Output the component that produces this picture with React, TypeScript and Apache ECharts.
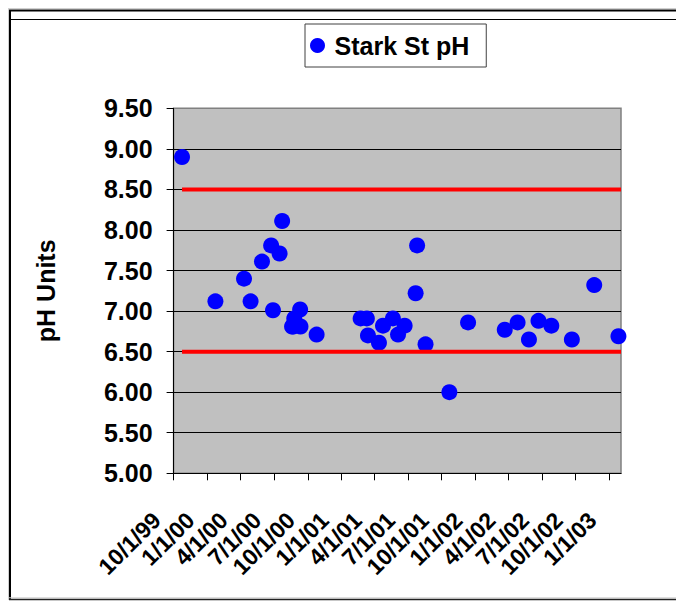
import React, { useEffect, useRef } from 'react';
import * as echarts from 'echarts';

// ---- Data ----
const sampleDates = [
  '1999-10-24',
  '2000-01-23', '2000-04-10', '2000-04-28', '2000-05-29', '2000-06-23', '2000-06-28',
  '2000-07-16', '2000-07-23', '2000-08-19', '2000-08-22', '2000-08-25', '2000-09-10',
  '2000-09-11', '2000-10-25',
  '2001-02-22', '2001-03-11', '2001-03-14', '2001-04-13', '2001-04-24', '2001-05-21',
  '2001-06-04', '2001-06-22', '2001-07-22', '2001-07-26', '2001-08-18', '2001-10-22',
  '2001-12-12',
  '2002-03-22', '2002-04-26', '2002-05-27', '2002-06-22', '2002-07-27', '2002-09-21',
  '2002-11-21', '2003-01-26',
];
const phValues = [
  8.90,
  7.12, 7.40, 7.12, 7.61, 7.81, 7.01,
  7.71, 8.11, 6.81, 6.81, 6.91, 7.02,
  6.81, 6.71,
  6.91, 6.91, 6.70, 6.61, 6.82, 6.91,
  6.71, 6.82, 7.22, 7.81, 6.59, 6.00,
  6.86,
  6.77, 6.86, 6.65, 6.88, 6.82, 6.65,
  7.32, 6.69,
];
const tickLabels = [
  '10/1/99', '1/1/00', '4/1/00', '7/1/00', '10/1/00', '1/1/01', '4/1/01',
  '7/1/01', '10/1/01', '1/1/02', '4/1/02', '7/1/02', '10/1/02', '1/1/03',
];
const upperLimit = 8.5;
const lowerLimit = 6.5;
const yMin = 5;
const yMax = 9.5;
const yStep = 0.5;
const axisStartDate = '1999-10-01';
const axisEndDate = '2003-02-02';
const seriesName = 'Stark St pH';

const FONT = '"Liberation Sans", Arial, Helvetica, sans-serif';

function isoTs(s: string): number {
  const [y, m, d] = s.split('-').map(Number);
  return Date.UTC(y, m - 1, d);
}
function labelTs(s: string): number {
  const [m, d, yy] = s.split('/').map(Number);
  const y = yy < 50 ? 2000 + yy : 1900 + yy;
  return Date.UTC(y, m - 1, d);
}
function fmtDate(v: number): string {
  const dt = new Date(v);
  return `${dt.getUTCMonth() + 1}/${dt.getUTCDate()}/${String(dt.getUTCFullYear() % 100).padStart(2, '0')}`;
}

export default function App() {
  const ref = useRef<HTMLDivElement>(null);

  useEffect(() => {
    if (!ref.current) return;
    const chart = echarts.init(ref.current, undefined, { renderer: 'svg' });
    const ticks = tickLabels.map(labelTs);
    const xMin = isoTs(axisStartDate);
    const xMax = isoTs(axisEndDate);
    const lineStart = isoTs(sampleDates[0]);
    const nLines = Math.round((yMax - yMin) / yStep) + 1;
    const splitColors = Array.from({ length: nLines }, (_, i) => (i === nLines - 1 ? '#808080' : '#000000'));

    chart.setOption({
      animation: false,
      backgroundColor: '#ffffff',
      textStyle: { fontFamily: FONT },
      legend: {
        data: [seriesName],
        left: 305,
        top: 24,
        padding: [9, 17, 9, 5],
        borderColor: '#404040',
        borderWidth: 1,
        itemWidth: 24,
        itemHeight: 15,
        icon: 'circle',
        selectedMode: false,
        textStyle: { fontSize: 25, fontWeight: 'bold', color: '#000', fontFamily: FONT },
      },
      grid: {
        left: 173.6,
        top: 108.3,
        right: 55,
        bottom: 129.7,
        show: true,
        backgroundColor: '#C0C0C0',
        borderColor: '#808080',
        borderWidth: 1.5,
      },
      xAxis: {
        type: 'value',
        min: xMin,
        max: xMax,
        axisLine: { show: true, lineStyle: { color: '#000', width: 1 } },
        axisTick: { show: true, length: 7, customValues: ticks, lineStyle: { color: '#000' } },
        axisLabel: {
          customValues: ticks,
          rotate: 45,
          margin: 26,
          padding: [0, 24, 0, 0],
          fontSize: 23,
          fontWeight: 'bold',
          color: '#000',
          fontFamily: FONT,
          formatter: (v: number) => fmtDate(v),
        },
        splitLine: { show: false },
      },
      yAxis: {
        type: 'value',
        min: yMin,
        max: yMax,
        interval: yStep,
        name: 'pH Units',
        nameLocation: 'middle',
        nameRotate: 90,
        nameGap: 127.5,
        nameTextStyle: { fontSize: 25, fontWeight: 'bold', color: '#000', verticalAlign: 'middle', fontFamily: FONT },
        axisLine: { show: true, lineStyle: { color: '#000', width: 1 } },
        axisTick: { show: true, length: 7, lineStyle: { color: '#000' } },
        axisLabel: {
          margin: 21,
          fontSize: 25,
          fontWeight: 'bold',
          color: '#000',
          fontFamily: FONT,
          formatter: (v: number) => v.toFixed(2),
        },
        splitLine: { show: true, lineStyle: { color: splitColors, width: 1 } },
      },
      series: [
        {
          name: seriesName,
          type: 'scatter',
          symbol: 'circle',
          symbolSize: 16,
          itemStyle: { color: '#0000FF', opacity: 1 },
          data: sampleDates.map((d, i) => [isoTs(d), phValues[i]]),
        },
        {
          name: 'Upper limit',
          type: 'line',
          symbol: 'none',
          silent: true,
          lineStyle: { color: '#FF0000', width: 4 },
          data: [[lineStart, upperLimit], [xMax, upperLimit]],
        },
        {
          name: 'Lower limit',
          type: 'line',
          symbol: 'none',
          silent: true,
          lineStyle: { color: '#FF0000', width: 4 },
          data: [[lineStart, lowerLimit], [xMax, lowerLimit]],
        },
      ],
      graphic: [
        { type: 'line', shape: { x1: 8, y1: 8.5, x2: 676, y2: 8.5 }, style: { stroke: '#d0d0d0', lineWidth: 1 } },
        { type: 'line', shape: { x1: 8.5, y1: 8, x2: 8.5, y2: 600 }, style: { stroke: '#d0d0d0', lineWidth: 1 } },
        { type: 'line', shape: { x1: 9, y1: 10.5, x2: 676, y2: 10.5 }, style: { stroke: '#000', lineWidth: 2 } },
        { type: 'line', shape: { x1: 10, y1: 19.5, x2: 676, y2: 19.5 }, style: { stroke: '#000', lineWidth: 1.2 } },
        { type: 'line', shape: { x1: 10, y1: 10, x2: 10, y2: 600 }, style: { stroke: '#000', lineWidth: 2 } },
        { type: 'line', shape: { x1: 9, y1: 597.8, x2: 676, y2: 597.8 }, style: { stroke: '#d0d0d0', lineWidth: 1 } },
        { type: 'line', shape: { x1: 9, y1: 599.5, x2: 676, y2: 599.5 }, style: { stroke: '#222', lineWidth: 1.5 } },
      ],
    });

    return () => chart.dispose();
  }, []);

  return (
    <div
      ref={ref}
      style={{ position: 'fixed', left: 0, top: 0, width: 676, height: 603 }}
    />
  );
}
